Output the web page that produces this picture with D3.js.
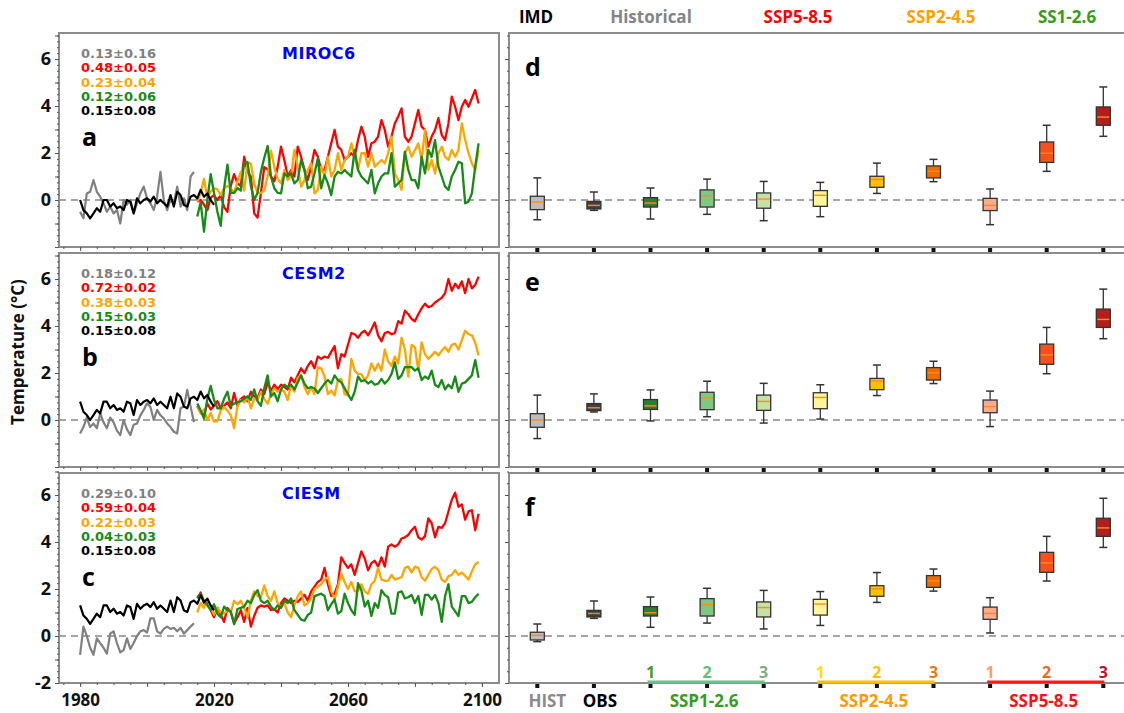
<!DOCTYPE html>
<html>
<head>
<meta charset="utf-8">
<script src="https://cdn.jsdelivr.net/npm/d3@7"></script>
<style>
  body { margin: 0; background: #fff; }
  text { font-family: "Open Sans", sans-serif; font-weight: 700; }
  .stat, .model { font-family: "DejaVu Sans", sans-serif; }
</style>
</head>
<body>
<svg id="chart" width="1124" height="713"></svg>
<script>
// ---- data (anomalies, °C) ----
const histMIROC6 = [-0.5,-0.78,0.28,0.35,0.85,0.35,0.14,-0.14,-0.5,-0.28,-0.57,-0.43,-1.0,0,-0.2,0,-0.57,-0.14,0.28,0.57,0.07,-0.14,-0.43,0.14,1.2,0,-0.43,0,-0.14,0.57,-0.28,0.07,-0.43,1.0,1.2];
const imdMIROC6 = [0,-0.43,-0.57,-0.78,-0.57,-0.35,-0.5,0,0,-0.28,-0.14,-0.35,-0.28,-0.43,0,-0.07,-0.57,0.07,-0.14,0,0.07,-0.07,0.14,-0.14,0,-0.14,-0.28,0.21,-0.28,0.35,0.21,-0.21,-0.28,0.14,0.21,0.07,0.43,0.14,0.28,0,-0.21];
const ssp585MIROC6 = [-0.07,0.0,-0.2,-0.43,0.1,0.2,0.0,0.2,-0.3,-0.5,0.6,1.1,0.7,0.6,1.84,1.2,1.0,-0.57,-0.75,0.3,1.4,1.3,1.0,0.8,1.4,
  2.27,1.7,1.0,1.28,1.0,2.27,1.84,1.28,0.85,1.42,2.13,1.84,1.28,1.28,1.84,2.41,2.98,2.27,2.13,1.7,
  1.84,1.99,1.84,2.55,3.12,2.7,1.84,2.41,2.48,2.7,3.4,2.98,2.27,2.7,3.26,3.55,3.9,2.7,2.48,2.7,
  3.26,3.83,3.12,2.98,2.27,2.7,2.98,3.48,2.77,2.55,3.26,4.4,3.97,3.4,3.97,4.26,3.97,4.33,4.68,4.11];
const ssp245MIROC6 = [-0.07,0.3,0.9,0.1,0.35,0.5,0.45,0.2,0.5,0.6,0.5,0.3,0.8,1.2,0.4,1.6,1.55,0.7,0.3,0.3,0.4,1.0,2.1,1.4,0.9,
  0.71,1.28,0.85,1.0,2.13,1.42,0.57,0.85,1.28,1.56,0.28,0.43,1.42,1.0,1.84,1.0,1.28,1.99,1.28,1.7,
  1.84,2.41,1.84,1.28,1.99,1.99,1.42,1.99,1.42,1.56,1.7,1.56,1.99,2.7,1.13,0.85,0.43,1.99,2.27,1.84,
  2.13,2.41,1.7,2.98,1.28,1.7,1.13,1.99,2.27,1.84,1.7,2.13,1.84,2.13,3.26,2.55,1.99,1.56,1.28,2.13];
const ssp126MIROC6 = [-0.7,-0.1,-1.35,0.0,1.1,0.3,-0.5,-1.1,0.5,1.5,0.3,0.3,0.5,0.4,1.6,1.6,0.6,0.0,0.3,1.2,1.8,2.3,1.0,0.5,0.3,
  0.28,1.13,1.0,1.13,0.71,0.85,1.7,1.28,0.5,0.57,1.13,1.77,0.5,1.06,0.71,0.21,1.0,1.2,1.13,1.28,
  1.13,1.0,2.13,1.28,1.0,0.85,0.71,1.28,0.28,0.71,1.0,1.13,1.13,1.99,0.57,0.71,0.85,2.06,1.28,0.85,
  0.85,0.5,1.84,1.13,2.13,1.84,2.55,1.42,1.0,0.57,0.43,1.0,1.28,1.63,1.56,-0.14,-0.07,0.28,1.42,2.41];

const histCESM2 = [-0.57,-0.3,0.1,-0.3,-0.15,-0.35,0.28,-0.1,-0.35,0.1,-0.1,-0.45,-0.64,0,-0.4,-0.64,-0.2,-0.15,0.2,0.43,0.71,0.55,0,0.43,0.2,0.07,-0.15,-0.3,-0.5,-0.57,0.5,0.57,1.28,0.57,-0.1];
const imdCESM2 = [0.78,0.35,0.21,0,0.21,0.43,0.28,0.78,0.78,0.5,0.64,0.43,0.5,0.35,0.78,0.71,0.21,0.85,0.64,0.78,0.85,0.71,0.92,0.64,0.78,0.64,0.5,0.99,0.5,1.13,0.99,0.57,0.5,0.92,0.99,0.85,1.21,0.92,1.06,0.78,0.57];
const ssp585CESM2 = [0.6,0.3,0.2,0.7,0.45,0.6,0.8,0.5,0.6,0.75,0.5,1.15,0.6,0.9,1.0,0.8,1.2,1.0,0.95,1.3,1.1,1.6,1.25,1.5,1.3,
  1.5,1.4,1.3,1.8,1.6,1.9,2.2,2.0,2.3,2.5,2.2,2.7,2.6,2.7,2.65,2.9,3.15,2.2,2.8,2.7,
  3.2,3.7,3.65,3.5,3.7,3.8,3.6,3.85,4.15,3.6,3.35,3.7,3.75,3.65,3.7,4.2,4.1,4.65,4.5,4.3,
  4.2,4.5,4.75,4.95,4.8,4.85,5.0,5.1,5.2,5.4,6.0,5.5,5.8,5.6,5.9,5.4,6.0,5.6,5.75,6.1];
const ssp245CESM2 = [0.57,0.3,0.45,0.0,0.3,-0.07,-0.05,0.4,0.55,0.4,0.2,-0.35,0.6,0.85,0.75,1.0,0.5,0.9,0.85,1.2,0.9,0.7,1.1,1.35,1.2,
  1.3,1.2,0.85,1.5,1.2,1.8,1.9,1.4,1.1,1.4,1.1,2.25,2.2,1.85,1.1,1.25,1.05,1.7,1.75,1.1,
  1.05,2.6,2.1,1.95,1.95,1.7,1.9,2.4,2.1,2.4,2.1,3.0,2.5,2.3,2.7,2.4,3.5,3.0,1.85,3.2,
  3.1,2.1,3.3,2.8,2.6,2.75,2.9,2.75,2.95,3.1,2.9,3.2,3.25,3.0,3.4,3.8,3.65,3.6,3.3,2.75];
const ssp126CESM2 = [0.7,0.4,0.07,0.9,1.45,0.85,0.5,0.5,0.9,1.2,0.6,0.7,0.75,0.8,0.9,1.0,0.85,1.3,0.8,0.6,1.35,1.9,1.0,1.15,0.8,
  1.3,1.5,1.4,1.5,1.3,1.6,1.9,1.55,1.35,1.4,1.35,1.15,1.35,1.55,1.7,1.55,1.9,1.7,1.6,1.35,
  1.1,0.85,1.2,1.85,1.65,1.7,1.55,1.65,1.5,1.55,1.75,1.55,1.7,1.95,2.45,1.75,1.9,2.25,2.25,2.25,
  2.1,2.2,1.7,1.85,1.75,2.1,1.5,1.4,1.7,1.3,1.5,1.35,1.85,1.2,1.55,1.6,1.75,1.9,2.55,1.8];

const histCIESM = [-0.8,0.4,0.0,-0.5,-0.8,-0.1,-0.3,-0.5,-0.75,0.1,0.2,-0.3,-0.7,-0.6,-0.1,-0.55,-0.3,0.0,0.2,0.25,0.15,0.75,0.75,0.2,0.1,0.3,0.4,0.3,0.35,0.2,0.35,0.1,0.25,0.4,0.54];
const imdCIESM = [1.3,0.87,0.73,0.52,0.73,0.95,0.8,1.3,1.3,1.02,1.16,0.95,1.02,0.87,1.3,1.23,0.73,1.37,1.16,1.3,1.37,1.23,1.44,1.16,1.3,1.16,1.02,1.51,1.02,1.65,1.51,1.09,1.02,1.44,1.51,1.37,1.73,1.44,1.58,1.3,1.09];
const ssp585CIESM = [1.6,1.85,1.4,1.5,1.1,0.8,1.2,0.9,0.6,1.2,1.0,0.55,0.8,1.1,0.6,1.2,0.4,0.85,1.2,1.3,1.25,1.3,1.1,1.15,1.0,
  1.4,1.6,1.5,1.4,1.5,1.45,1.6,1.75,1.5,1.9,2.1,2.3,2.4,2.9,2.2,1.7,1.8,2.2,3.35,3.1,
  2.9,3.05,2.6,3.1,3.6,3.3,2.8,3.1,3.2,2.95,3.35,2.95,3.8,3.9,3.8,3.9,4.15,4.2,4.3,4.5,
  4.65,4.2,4.1,4.25,5.0,4.8,4.2,4.65,4.6,4.8,5.3,5.8,6.1,5.5,5.6,4.95,5.3,5.35,4.5,5.2];
const ssp245CIESM = [1.0,1.4,1.2,1.6,1.2,0.9,1.2,1.0,0.95,1.1,1.0,1.5,1.35,1.5,1.2,0.8,1.5,1.9,1.7,1.65,2.15,1.7,1.5,1.9,1.4,
  1.2,1.4,1.0,0.8,1.3,1.7,1.9,1.3,1.4,1.6,2.0,2.1,2.2,2.4,2.5,1.9,1.55,2.1,2.65,2.3,
  2.0,2.3,1.9,1.9,2.2,1.9,1.8,2.2,2.35,2.9,2.4,2.35,2.35,2.6,2.4,2.45,2.5,2.9,2.95,2.7,
  2.95,2.9,2.5,2.35,2.6,2.85,2.95,2.8,2.4,2.3,2.55,2.6,2.8,2.6,2.7,2.55,2.4,2.75,3.05,3.15];
const ssp126CIESM = [1.65,1.8,1.5,1.3,1.1,1.35,0.95,0.8,1.25,1.1,1.05,0.5,1.15,1.2,1.25,1.5,1.4,1.75,1.95,1.5,1.4,1.5,1.25,1.1,1.3,
  1.2,1.5,1.4,1.6,1.1,0.9,0.7,0.65,0.9,1.0,1.7,1.75,1.8,1.7,1.1,1.35,1.55,0.95,1.05,1.8,
  1.4,1.1,0.9,2.25,1.95,1.25,1.5,0.85,1.4,1.2,1.95,1.75,1.65,0.95,0.95,1.85,1.9,1.6,1.65,1.75,
  1.4,1.7,0.9,1.75,1.75,1.55,1.75,1.4,0.6,1.7,2.2,1.25,1.05,0.85,1.7,1.7,1.4,1.45,1.65,1.8];

// trend labels: hist, SSP5-8.5, SSP2-4.5, SSP1-2.6, IMD
const statsMIROC6 = ["0.13±0.16","0.48±0.05","0.23±0.04","0.12±0.06","0.15±0.08"];
const statsCESM2  = ["0.18±0.12","0.72±0.02","0.38±0.03","0.15±0.03","0.15±0.08"];
const statsCIESM  = ["0.29±0.10","0.59±0.04","0.22±0.03","0.04±0.03","0.15±0.08"];

// box plots: [whisker low, q1, median, q3, whisker high]
const boxCats = ["HIST","OBS","126-1","126-2","126-3","245-1","245-2","245-3","585-1","585-2","585-3"];
const boxMIROC6 = [[-0.84,-0.41,-0.09,0.16,0.94],[-0.44,-0.38,-0.23,-0.06,0.34],[-0.81,-0.30,-0.13,0.10,0.51],
  [-0.61,-0.30,0.18,0.43,0.89],[-0.88,-0.35,0.04,0.30,0.79],[-0.71,-0.27,0.20,0.40,0.75],[0.28,0.54,0.87,1.01,1.57],
  [0.78,0.94,1.22,1.45,1.73],[-1.05,-0.45,-0.23,0.07,0.47],[1.22,1.60,1.99,2.47,3.18],[2.71,3.18,3.53,3.96,4.81]];
const boxCESM2 = [[-0.79,-0.31,0,0.27,1.06],[0.34,0.40,0.52,0.70,1.11],[-0.04,0.45,0.60,0.87,1.28],
  [0.14,0.44,0.94,1.18,1.65],[-0.13,0.41,0.79,1.06,1.56],[0.04,0.48,0.96,1.16,1.50],[1.04,1.29,1.66,1.77,2.34],
  [1.55,1.70,2.01,2.23,2.50],[-0.28,0.31,0.57,0.85,1.23],[1.97,2.37,2.77,3.23,3.94],[3.46,3.94,4.28,4.72,5.57]];
const boxCIESM = [[-0.24,-0.17,0.03,0.16,0.51],[0.75,0.81,0.96,1.09,1.49],[0.37,0.85,0.99,1.25,1.66],
  [0.55,0.85,1.33,1.59,2.03],[0.30,0.81,1.21,1.45,1.94],[0.45,0.89,1.36,1.56,1.89],[1.43,1.69,2.01,2.14,2.70],
  [1.91,2.07,2.35,2.57,2.85],[0.13,0.71,0.96,1.23,1.63],[2.34,2.71,3.11,3.56,4.24],[3.77,4.24,4.60,5.01,5.86]];

const boxFill = ["#bdbdbd","#404040","#2e7d32","#81c784","#c5e1a5","#fff59d","#ffc107","#ef6c00","#ffab91","#f4511e","#b71c1c"];

// ---- layout ----
const svg = d3.select("#chart");
const yearsHist = d3.range(1980, 2015);
const yearsImd = d3.range(1980, 2021);
const yearsSsp = d3.range(2015, 2100);

const x = d3.scaleLinear().domain([1973.7, 2105.1]).range([59, 499]);
const xb = d3.scaleBand().domain(boxCats).range([509, 1131.6]);

const panels = [
  { top: 33, bottom: 247, model: "MIROC6", letter: "a", rletter: "d", hist: histMIROC6, imd: imdMIROC6,
    s585: ssp585MIROC6, s245: ssp245MIROC6, s126: ssp126MIROC6, stats: statsMIROC6, box: boxMIROC6 },
  { top: 253, bottom: 467, model: "CESM2", letter: "b", rletter: "e", hist: histCESM2, imd: imdCESM2,
    s585: ssp585CESM2, s245: ssp245CESM2, s126: ssp126CESM2, stats: statsCESM2, box: boxCESM2 },
  { top: 473, bottom: 683, model: "CIESM", letter: "c", rletter: "f", hist: histCIESM, imd: imdCIESM,
    s585: ssp585CIESM, s245: ssp245CIESM, s126: ssp126CIESM, stats: statsCIESM, box: boxCIESM }
];
const statColors = ["#808080", "#ff0000", "#ffa500", "#178a17", "#000000"];

panels.forEach((p, i) => {
  const y = d3.scaleLinear().domain([-2, 7]).range([p.bottom, p.bottom - 211.5]);
  const g = svg.append("g");

  // left panel frame
  g.append("rect").attr("x", 59).attr("y", p.top).attr("width", 440).attr("height", p.bottom - p.top)
    .attr("fill", "none").attr("stroke", "#8c8c8c").attr("stroke-width", 2);
  // right panel frame
  g.append("rect").attr("x", 509).attr("y", p.top).attr("width", 640).attr("height", p.bottom - p.top)
    .attr("fill", "none").attr("stroke", "#8c8c8c").attr("stroke-width", 2);

  // y axes (left panels)
  const minorY = g.append("g").attr("transform", "translate(59,0)")
    .call(d3.axisLeft(y).tickValues(d3.range(-2, 7.01, 0.25)).tickSize(2).tickFormat(""));
  const majorY = g.append("g").attr("transform", "translate(59,0)")
    .call(d3.axisLeft(y).tickValues(d3.range(-2, 8, 1)).tickSize(4)
      .tickFormat(d => (d % 2 === 0 && (d >= 0 || i === 2)) ? d : ""));
  majorY.selectAll("text").attr("x", -8).attr("font-size", 18).attr("fill", "#111");
  // y axes (right panels)
  const minorYr = g.append("g").attr("transform", "translate(509,0)")
    .call(d3.axisLeft(y).tickValues(d3.range(-2, 7.01, 0.5)).tickSize(2).tickFormat(""));
  const majorYr = g.append("g").attr("transform", "translate(509,0)")
    .call(d3.axisLeft(y).tickValues([-2, 0, 2, 4, 6]).tickSize(4).tickFormat(""));

  // x axis (left panels)
  const minorX = g.append("g").attr("transform", `translate(0,${p.bottom})`)
    .call(d3.axisBottom(x).tickValues(d3.range(1975, 2105, 5)).tickSize(2).tickFormat(""));
  const majorX = g.append("g").attr("transform", `translate(0,${p.bottom})`)
    .call(d3.axisBottom(x).tickValues(d3.range(1980, 2101, 20)).tickSize(4)
      .tickFormat(d => (i === 2 && (d - 1980) % 40 === 0) ? d : ""));
  majorX.selectAll("text").attr("font-size", 17).attr("y", 23).attr("dy", 0).attr("fill", "#111");

  [minorY, majorY, minorYr, majorYr, minorX, majorX].forEach(a => {
    a.select(".domain").remove();
    a.selectAll("line").attr("stroke", "#555");
  });

  // right panel category ticks (small squares)
  g.append("g").selectAll("rect").data(boxCats).join("rect")
    .attr("x", d => xb(d) + xb.bandwidth() / 2 - 2).attr("y", p.bottom + 1)
    .attr("width", 4).attr("height", 4).attr("fill", "#111");

  // zero lines
  [[59, 499], [509, 1124]].forEach(([a, b]) => {
    g.append("line").attr("x1", a).attr("x2", b).attr("y1", y(0)).attr("y2", y(0))
      .attr("stroke", "#888").attr("stroke-width", 1.5).attr("stroke-dasharray", "7,5");
  });

  // time series
  const line = (years) => d3.line().x((d, k) => x(years[k])).y(d => y(d));
  const series = [
    [p.hist, yearsHist, "#808080", 2.2],
    [p.s585, yearsSsp, "#ff0000", 2.3],
    [p.s245, yearsSsp, "#ffa500", 2.3],
    [p.s126, yearsSsp, "#178a17", 2.3],
    [p.imd, yearsImd, "#000000", 2.2]
  ];
  series.forEach(([vals, yrs, col, w]) => {
    g.append("path").datum(vals).attr("d", line(yrs)).attr("fill", "none")
      .attr("stroke", col).attr("stroke-width", w).attr("stroke-linejoin", "round");
  });

  // stats text
  g.append("g").selectAll("text").data(p.stats).join("text").attr("class", "stat")
    .attr("x", 81).attr("y", (d, k) => p.top + 25 + k * 14.3)
    .attr("font-size", 13).attr("fill", (d, k) => statColors[k]).text(d => d);

  // model name
  g.append("text").attr("class", "model").attr("x", 282).attr("y", p.top + 26)
    .attr("font-size", 16).attr("fill", "#0000ff").attr("letter-spacing", 0.5).text(p.model);

  // panel letters
  g.append("text").attr("x", 82).attr("y", p.top + 113).attr("font-size", 25).attr("fill", "#000").text(p.letter);
  g.append("text").attr("x", 525).attr("y", p.top + (i === 1 ? 38 : 43)).attr("font-size", 25).attr("fill", "#000").text(p.rletter);

  // box plots
  const bw = 14;
  const bg = g.append("g").selectAll("g").data(p.box).join("g")
    .attr("transform", (d, k) => `translate(${xb(boxCats[k]) + xb.bandwidth() / 2},0)`);
  bg.append("line").attr("x1", 0).attr("x2", 0).attr("y1", d => y(d[0])).attr("y2", d => y(d[4]))
    .attr("stroke", "#333").attr("stroke-width", 1.3);
  bg.append("line").attr("x1", -4).attr("x2", 4).attr("y1", d => y(d[0])).attr("y2", d => y(d[0]))
    .attr("stroke", "#333").attr("stroke-width", 1.5);
  bg.append("line").attr("x1", -4).attr("x2", 4).attr("y1", d => y(d[4])).attr("y2", d => y(d[4]))
    .attr("stroke", "#333").attr("stroke-width", 1.5);
  bg.append("rect").attr("x", -bw / 2).attr("width", bw)
    .attr("y", d => y(d[3])).attr("height", d => y(d[1]) - y(d[3]))
    .attr("fill", (d, k) => boxFill[k]).attr("stroke", "#333").attr("stroke-width", 1.3);
  bg.append("line").attr("x1", -bw / 2 + 1).attr("x2", bw / 2 - 1).attr("y1", d => y(d[2])).attr("y2", d => y(d[2]))
    .attr("stroke", "#ff8c1a").attr("stroke-width", 1.4);
});

// y axis title
svg.append("text").attr("transform", "translate(24,352) rotate(-90)").attr("text-anchor", "middle")
  .attr("font-size", 17).attr("fill", "#111").text("Temperature (°C)");

// top legend
const legend = [["IMD", "#000000", 536], ["Historical", "#808588", 651], ["SSP5-8.5", "#ff0000", 798],
  ["SSP2-4.5", "#ffa000", 941], ["SS1-2.6", "#3a9a1a", 1067]];
svg.append("g").selectAll("text").data(legend).join("text")
  .attr("x", d => d[2]).attr("y", 23).attr("text-anchor", "middle").attr("font-size", 17)
  .attr("fill", d => d[1]).text(d => d[0]);

// bottom category labels of right panels
const cx = c => xb(c) + xb.bandwidth() / 2;
svg.append("text").attr("x", cx("HIST") + 10).attr("y", 707).attr("text-anchor", "middle")
  .attr("font-size", 17).attr("fill", "#8a8a8a").text("HIST");
svg.append("text").attr("x", cx("OBS") + 6).attr("y", 707).attr("text-anchor", "middle")
  .attr("font-size", 17).attr("fill", "#000").text("OBS");

const groups = [
  { name: "SSP1-2.6", cats: ["126-1","126-2","126-3"], line: "#6cc08a", text: "#3a9a1a", nums: ["#4a9a2a","#5cbf7a","#86a886"] },
  { name: "SSP2-4.5", cats: ["245-1","245-2","245-3"], line: "#ffc000", text: "#ff9a00", nums: ["#ffe000","#ffc000","#e87a10"] },
  { name: "SSP5-8.5", cats: ["585-1","585-2","585-3"], line: "#ff1a1a", text: "#ff1010", nums: ["#ff9a6a","#f06a20","#c01030"] }
];
groups.forEach(gr => {
  svg.append("line").attr("x1", cx(gr.cats[0]) - 3).attr("x2", cx(gr.cats[2]) + 1)
    .attr("y1", 682).attr("y2", 682).attr("stroke", gr.line).attr("stroke-width", 3);
  gr.cats.forEach((c, k) => {
    svg.append("text").attr("x", cx(c)).attr("y", 678).attr("text-anchor", "middle")
      .attr("font-size", 16).attr("fill", gr.nums[k]).text(k + 1);
  });
  svg.append("text").attr("x", cx(gr.cats[1]) - 3).attr("y", 707).attr("text-anchor", "middle")
    .attr("font-size", 17).attr("fill", gr.text).text(gr.name);
});
</script>
</body>
</html>
